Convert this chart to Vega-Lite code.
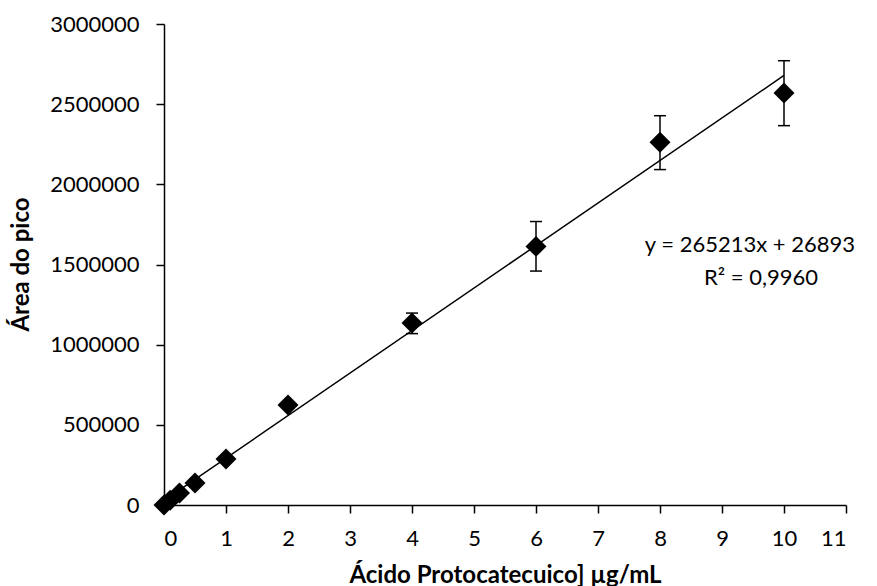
{
  "$schema": "https://vega.github.io/schema/vega-lite/v6.json",
  "width": 682,
  "height": 481,
  "autosize": {"type": "none"},
  "padding": {"left": 164, "top": 24, "right": 31, "bottom": 81},
  "background": "white",
  "config": {
    "view": {"stroke": null},
    "font": "Lato",
    "axis": {
      "grid": false,
      "domainColor": "black",
      "domainWidth": 1.5,
      "tickColor": "black",
      "tickWidth": 1.5,
      "tickSize": 8,
      "labelFont": "Lato",
      "labelFontSize": 22,
      "labelColor": "black",
      "titleFont": "Lato",
      "titleFontSize": 24,
      "titleFontWeight": "bold",
      "titleColor": "black"
    }
  },
  "datasets": {
    "pts": [
      {"conc": 0, "area": 0, "lo": 0, "hi": 0},
      {"conc": 0.1, "area": 30000, "lo": 28000, "hi": 32000},
      {"conc": 0.25, "area": 75000, "lo": 72000, "hi": 78000},
      {"conc": 0.5, "area": 137000, "lo": 130000, "hi": 144000},
      {"conc": 1, "area": 287000, "lo": 275000, "hi": 299000},
      {"conc": 2, "area": 623000, "lo": 603000, "hi": 643000},
      {"conc": 4, "area": 1135000, "lo": 1069000, "hi": 1197000},
      {"conc": 6, "area": 1613000, "lo": 1459000, "hi": 1768000},
      {"conc": 8, "area": 2262000, "lo": 2092000, "hi": 2428000},
      {"conc": 10, "area": 2570000, "lo": 2366000, "hi": 2771000}
    ],
    "fit": [
      {"conc": 0, "area": 26893},
      {"conc": 10, "area": 2679023}
    ],
    "labels": [
      {"conc": 9.45, "area": 1619000, "txt": "y = 265213x + 26893"},
      {"conc": 9.63, "area": 1413000, "txt": "R² = 0,9960"}
    ]
  },
  "layer": [
    {
      "data": {"name": "fit"},
      "mark": {"type": "line", "color": "black", "strokeWidth": 1.5},
      "encoding": {
        "x": {
          "field": "conc", "type": "quantitative",
          "scale": {"domain": [0, 11], "nice": false, "zero": false, "padding": 0},
          "axis": {
            "values": [0,1,2,3,4,5,6,7,8,9,10,11],
            "format": "d",
            "labelPadding": 15,
            "title": "Ácido Protocatecuico] µg/mL",
            "titleX": 341,
            "titleY": 77,
            "titleBaseline": "alphabetic",
            "titleAnchor": "middle"
          }
        },
        "y": {
          "field": "area", "type": "quantitative",
          "scale": {"domain": [0, 3000000], "nice": false, "padding": 0},
          "axis": {
            "values": [0, 500000, 1000000, 1500000, 2000000, 2500000, 3000000],
            "format": "d",
            "labelPadding": 17,
            "title": "Área do pico",
            "titleX": -136,
            "titleY": 240,
            "titleBaseline": "alphabetic",
            "titleAnchor": "middle"
          }
        }
      }
    },
    {
      "data": {"name": "pts"},
      "mark": {"type": "rule", "color": "black", "strokeWidth": 1.5},
      "encoding": {
        "x": {"field": "conc", "type": "quantitative"},
        "y": {"field": "lo", "type": "quantitative"},
        "y2": {"field": "hi"}
      }
    },
    {
      "data": {"name": "pts"},
      "mark": {"type": "point", "shape": "stroke", "filled": false, "color": "black", "opacity": 1, "size": 144, "strokeWidth": 1.5},
      "encoding": {
        "x": {"field": "conc", "type": "quantitative"},
        "y": {"field": "lo", "type": "quantitative"}
      }
    },
    {
      "data": {"name": "pts"},
      "mark": {"type": "point", "shape": "stroke", "filled": false, "color": "black", "opacity": 1, "size": 144, "strokeWidth": 1.5},
      "encoding": {
        "x": {"field": "conc", "type": "quantitative"},
        "y": {"field": "hi", "type": "quantitative"}
      }
    },
    {
      "data": {"name": "pts"},
      "mark": {"type": "point", "shape": "diamond", "filled": true, "color": "black", "opacity": 1, "size": 440},
      "encoding": {
        "x": {"field": "conc", "type": "quantitative"},
        "y": {"field": "area", "type": "quantitative"}
      }
    },
    {
      "data": {"name": "labels"},
      "mark": {"type": "text", "font": "Lato", "fontSize": 22, "color": "black", "align": "center", "baseline": "middle"},
      "encoding": {
        "x": {"field": "conc", "type": "quantitative"},
        "y": {"field": "area", "type": "quantitative"},
        "text": {"field": "txt"}
      }
    }
  ]
}
